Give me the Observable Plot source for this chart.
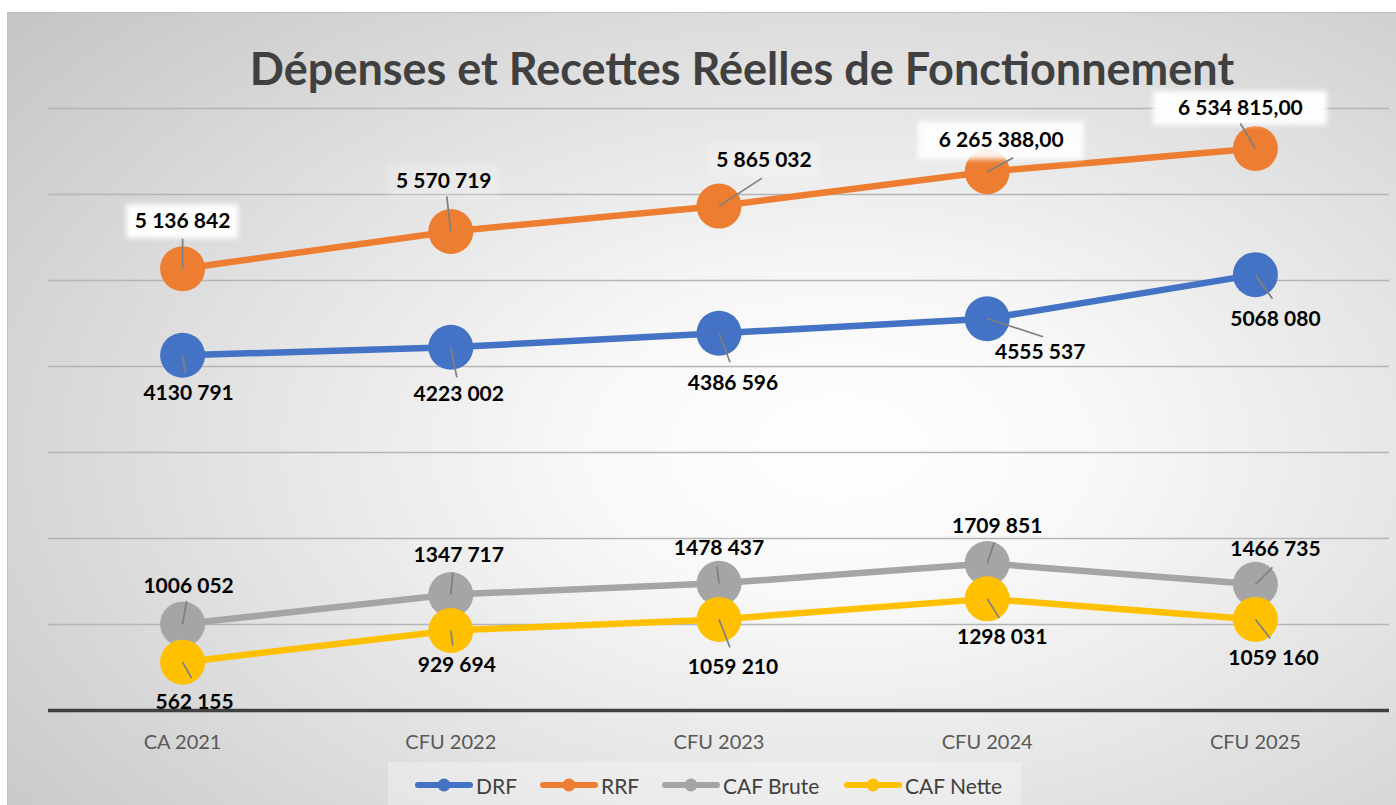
<!DOCTYPE html>
<html>
<head>
<meta charset="utf-8">
<script src="https://cdn.jsdelivr.net/npm/d3@7"></script>
<script src="https://cdn.jsdelivr.net/npm/@observablehq/plot@0.6"></script>
<style>
  html, body { margin: 0; padding: 0; background: #ffffff; }
  #page { position: relative; width: 1396px; height: 805px; overflow: hidden; font-family: Lato, "Open Sans", sans-serif; }
  #card { position: absolute; left: 7px; top: 12px; width: 1389px; height: 793px; box-sizing: border-box;
          border-top: 1px solid #bdbdbd; border-left: 1px solid #c4c4c4;
          background: radial-gradient(ellipse 78% 82% at 60% 55%, #ffffff 0%, #f8f8f8 24%, #e4e4e4 55%, #d0d0d0 85%, #c6c6c6 100%); }
  #title { position: absolute; left: 742px; top: 43px; transform: translateX(-50%); white-space: nowrap;
           font-size: 45px; line-height: 50px; font-weight: bold; color: #404040; }
  #chart { position: absolute; left: 0; top: 90px; }
  #legendbg { position: absolute; left: 388px; top: 762px; width: 633px; height: 43px; background: rgba(255,255,255,0.30); }
  .lg-item { position: absolute; top: 770px; height: 30px; display: flex; align-items: center; font-size: 21px; color: #404040; }
  .lg-item svg { display: block; margin-right: 3px; }
</style>
</head>
<body>
<div id="page">
  <div id="card"></div>
  <div id="title">Dépenses et Recettes Réelles de Fonctionnement</div>
  <div id="chart"></div>
  <div id="legendbg"></div>
  <div id="legend"></div>
</div>
<script>
// ---------- data ----------
const categories = ["CA 2021", "CFU 2022", "CFU 2023", "CFU 2024", "CFU 2025"];
const seriesNames = ["DRF", "RRF", "CAF Brute", "CAF Nette"];
const drf = [4130791, 4223002, 4386596, 4555537, 5068080];
const rrf = [5136842, 5570719, 5865032, 6265388, 6534815];
const cafBrute = [1006052, 1347717, 1478437, 1709851, 1466735];
const cafNette = [562155, 929694, 1059210, 1298031, 1059160];
const gridTicks = [1000000, 2000000, 3000000, 4000000, 5000000, 6000000, 7000000];
// label number style as shown in the picture
const labelStyles = {
  "DRF": ["compact", "compact", "compact", "compact", "compact"],
  "RRF": ["grouped", "grouped", "grouped", "decimal", "decimal"],
  "CAF Brute": ["compact", "compact", "compact", "compact", "compact"],
  "CAF Nette": ["compact", "compact", "compact", "compact", "compact"]
};

// ---------- style / layout ----------
const colors = {"DRF": "#4472C4", "RRF": "#ED7D31", "CAF Brute": "#A5A5A5", "CAF Nette": "#FFC000"};
const W = 1396, H = 670, mL = 48, mR = 7, mT = 18, mB = 50;
const yMax = 7000000;
const kx = (W - mL - mR) / 5;          // px per category
const ky = (H - mT - mB) / yMax;       // px per unit value
// label offsets (px from marker centre) and leader-line ends (px)
const labelOffsets = {
  "RRF": [[0, -47], [-7, -50], [45, -46], [14, -31], [-15, -40]],
  "DRF": [[6, 38], [8, 47], [14, 50], [53, 34], [20, 45]],
  "CAF Brute": [[6, -38], [8, -39], [0, -35], [10, -37], [20, -35]],
  "CAF Nette": [[12, 40], [6, 35], [14, 48], [15, 38], [18, 39]]
};
const leaderEnds = {
  "RRF": [[0, -30], [-4, -35], [43, -28], [26, -14], [-15, -25]],
  "DRF": [[3, 18], [6, 30], [11, 29], [56, 18], [17, 24]],
  "CAF Brute": [[4, -23], [2, -22], [-2, -17], [7, -21], [17, -17]],
  "CAF Nette": [[9, 16], [2, 15], [11, 28], [12, 19], [15, 19]]
};
// white boxes behind some labels: [series, index, widthPx, heightPx, opacity]
const labelBoxes = [["RRF", 0, 112, 34, 0.95], ["RRF", 1, 112, 34, 0.2], ["RRF", 2, 112, 34, 0.2],
                    ["RRF", 3, 166, 38, 0.9], ["RRF", 4, 174, 34, 0.95]];

// ---------- formatting ----------
const loc = d3.formatLocale({decimal: ",", thousands: " ", grouping: [3], currency: ["", ""]});
const fGrouped = loc.format(",d");
const fDecimal = loc.format(",.2f");
function fCompact(v) {
  const hi = Math.floor(v / 1000), lo = v % 1000;
  return hi + " " + String(lo).padStart(3, "0");
}
function fmt(v, style) {
  return style === "grouped" ? fGrouped(v) : style === "decimal" ? fDecimal(v) : fCompact(v);
}

const valuesBySeries = {"DRF": drf, "RRF": rrf, "CAF Brute": cafBrute, "CAF Nette": cafNette};
const rows = seriesNames.flatMap(s => valuesBySeries[s].map((v, i) => ({s, i, v})));
const labels = rows.map(d => {
  const [ox, oy] = labelOffsets[d.s][d.i];
  return {x: d.i + ox / kx, y: d.v - oy / ky, text: fmt(d.v, labelStyles[d.s][d.i])};
});
const leaders = rows.map(d => {
  const [ex, ey] = leaderEnds[d.s][d.i];
  return {x1: d.i, y1: d.v, x2: d.i + ex / kx, y2: d.v - ey / ky};
});
const boxes = labelBoxes.map(([s, i, w, h, op]) => {
  const v = valuesBySeries[s][i];
  const [ox, oy] = labelOffsets[s][i];
  const cx = i + ox / kx, cy = v - oy / ky;
  return {x1: cx - w / 2 / kx, x2: cx + w / 2 / kx, y1: cy - h / 2 / ky, y2: cy + h / 2 / ky, op};
});

const marks = [
  Plot.ruleY(gridTicks, {stroke: "#b5b5b5", strokeWidth: 1.3}),
  Plot.ruleY([0], {stroke: "#404040", strokeWidth: 3.5})
];
for (const s of seriesNames) {
  const data = rows.filter(d => d.s === s);
  marks.push(Plot.line(data, {x: "i", y: "v", stroke: colors[s], strokeWidth: 6.5}));
  marks.push(Plot.dot(data, {x: "i", y: "v", r: 22.5, fill: colors[s], stroke: "none"}));
}
marks.push(Plot.rect(boxes, {x1: "x1", x2: "x2", y1: "y1", y2: "y2", fill: "white", fillOpacity: "op"}));
marks.push(Plot.link(leaders, {x1: "x1", y1: "y1", x2: "x2", y2: "y2", stroke: "#7f7f7f", strokeWidth: 1.7}));
marks.push(Plot.text(labels, {x: "x", y: "y", text: "text", fontSize: 21, fontWeight: "bold", fill: "#000000",
  textAnchor: "middle", lineAnchor: "middle"}));

const plot = Plot.plot({
  width: W, height: H,
  marginLeft: mL, marginRight: mR, marginTop: mT, marginBottom: mB,
  style: {background: "transparent", fontFamily: "Lato, 'Open Sans', sans-serif", fontSize: "20px", color: "#595959", overflow: "visible"},
  x: {type: "linear", domain: [-0.5, 4.5], ticks: [0, 1, 2, 3, 4], tickFormat: i => categories[i], tickSize: 0, tickPadding: 24, label: null},
  y: {domain: [0, yMax], axis: null},
  opacity: {type: "identity"},
  marks
});
document.getElementById("chart").appendChild(plot);

// soft edges for the label boxes
const svgEl = plot.tagName.toLowerCase() === "svg" ? plot : plot.querySelector("svg");
const svg = d3.select(svgEl);
const defs = svg.insert("defs", ":first-child");
defs.append("filter").attr("id", "soft").attr("x", "-20%").attr("y", "-40%").attr("width", "140%").attr("height", "180%")
  .append("feGaussianBlur").attr("stdDeviation", 2.5);
svg.selectAll("rect").filter(function () { return this.getAttribute("fill") === "white" || (this.parentNode && this.parentNode.getAttribute("fill") === "white"); })
  .attr("filter", "url(#soft)");

// ---------- legend ----------
const legendX = [415, 540, 662, 844];
const legend = d3.select("#legend");
seriesNames.forEach((s, k) => {
  const item = legend.append("div").attr("class", "lg-item").style("left", legendX[k] + "px");
  const sw = item.append("svg").attr("width", 58).attr("height", 16);
  sw.append("line").attr("x1", 3).attr("x2", 55).attr("y1", 8).attr("y2", 8)
    .attr("stroke", colors[s]).attr("stroke-width", 6).attr("stroke-linecap", "round");
  sw.append("circle").attr("cx", 29).attr("cy", 8).attr("r", 6.5).attr("fill", colors[s]);
  item.append("span").text(s);
});
</script>
</body>
</html>
